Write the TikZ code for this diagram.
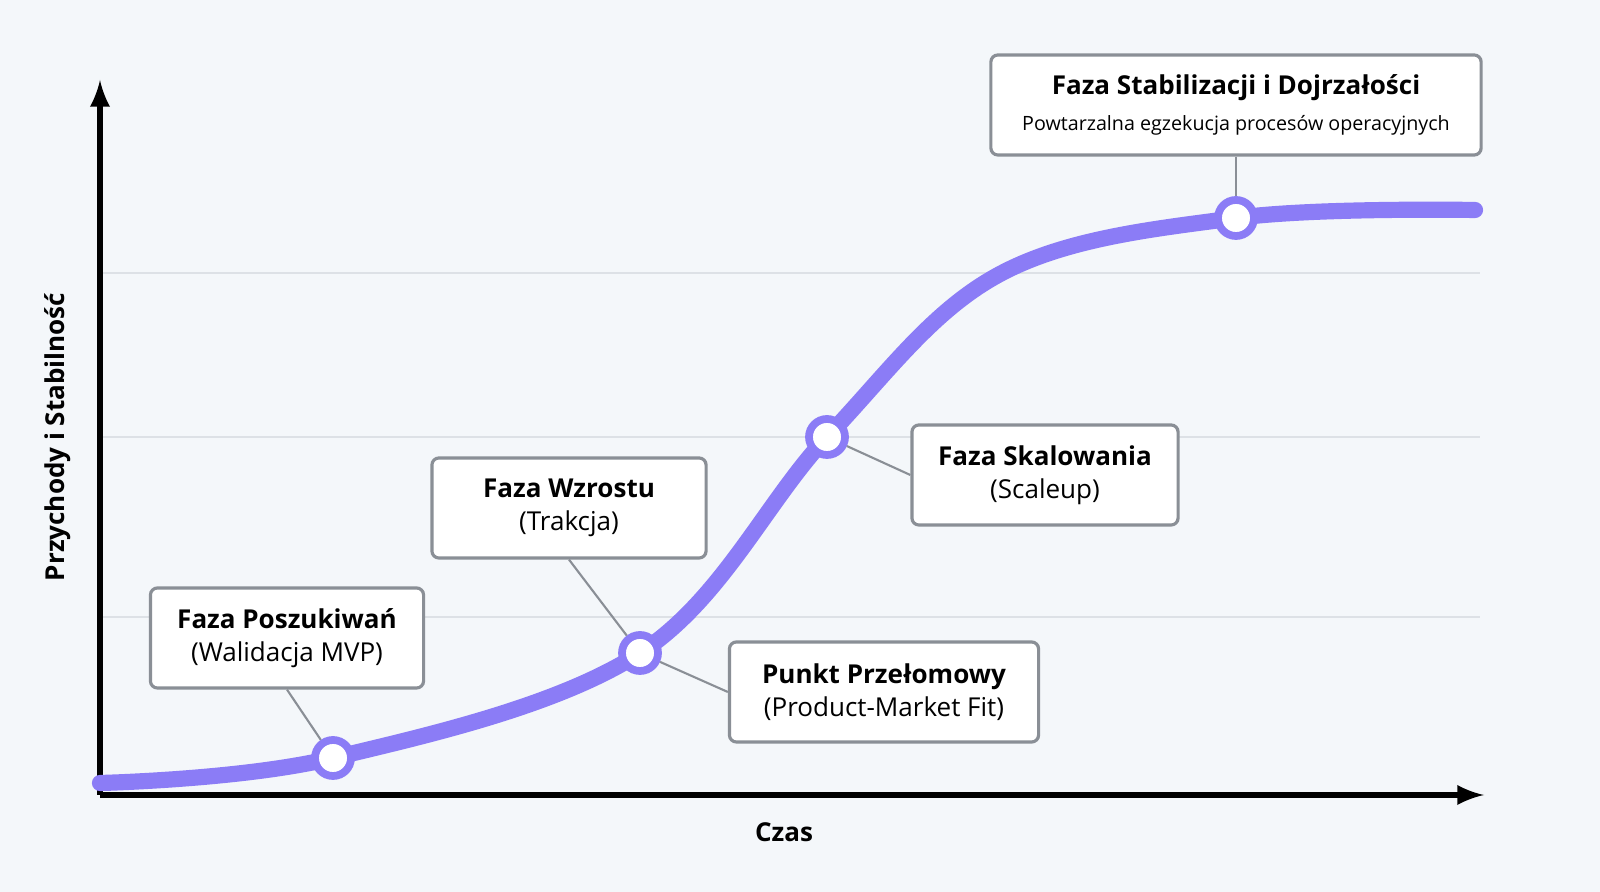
\documentclass[tikz,border=0pt]{standalone}
\usepackage{fontspec}
\setmainfont{Open Sans}
\definecolor{bgc}{HTML}{F4F7FA}
\definecolor{curvec}{HTML}{8B7CF6}
\definecolor{gridc}{HTML}{DDE1E6}
\definecolor{boxc}{HTML}{8A8F96}
\begin{document}
\begin{tikzpicture}[x=0.01cm,y=-0.01cm]
\tikzstyle{phase}=[draw=boxc,fill=white,rounded corners=2pt,line width=0.9pt,align=center,font=\fontsize{7.4pt}{9.4pt}\selectfont,minimum height=1cm]
\tikzstyle{dot}=[circle,draw=curvec,fill=white,line width=2.2pt,minimum size=0.36cm,inner sep=0pt]
\tikzstyle{link}=[draw=boxc,line width=0.6pt]
\useasboundingbox (0,0) rectangle (1600,892);
\fill[bgc] (0,0) rectangle (1600,892);
\foreach \y in {273,437,617} \draw[gridc,line width=0.6pt] (100,\y) -- (1480,\y);
\coordinate (o) at (100,795);
\coordinate (ytop) at (100,80);
\coordinate (xend) at (1484,795);
\draw[line width=1.6pt,-latex] (o) -- (ytop);
\draw[line width=1.6pt,-latex] (o) -- (xend);
\draw[curvec,line width=4.6pt,line cap=round] plot[smooth,tension=0.6] coordinates {(100,783) (333,758) (640,653) (827,437) (1000,274) (1236,218) (1475,210)};
\node[phase,minimum width=2.73cm] (b1) at (287,638) {\textbf{Faza Poszukiwań}\\(Walidacja MVP)};
\node[phase,minimum width=2.74cm] (b2) at (569,508) {\textbf{Faza Wzrostu}\\(Trakcja)};
\node[phase,minimum width=3.09cm] (b3) at (884,692) {\textbf{Punkt Przełomowy}\\(Product-Market Fit)};
\node[phase,minimum width=2.66cm] (b4) at (1045,475) {\textbf{Faza Skalowania}\\(Scaleup)};
\node[phase,minimum width=4.9cm] (b5) at (1236,105) {\textbf{Faza Stabilizacji i Dojrzałości}\\[1pt]{\fontsize{5.6pt}{7pt}\selectfont Powtarzalna egzekucja procesów operacyjnych}};
\node[dot] (c1) at (333,758) {};
\node[dot] (c2) at (640,653) {};
\node[dot] (c3) at (827,437) {};
\node[dot] (c4) at (1236,218) {};
\draw[link] (b1.south) -- (c1);
\draw[link] (b2.south) -- (c2);
\draw[link] (b3.west) -- (c2);
\draw[link] (b4.west) -- (c3);
\draw[link] (b5.south) -- (c4);
\node[rotate=90,font=\bfseries\fontsize{7.4pt}{9pt}\selectfont] (ylab) at (58,437) {Przychody i Stabilność};
\node[font=\bfseries\fontsize{7.4pt}{9pt}\selectfont] (xlab) at (784,832) {Czas};
\end{tikzpicture}
\end{document}
